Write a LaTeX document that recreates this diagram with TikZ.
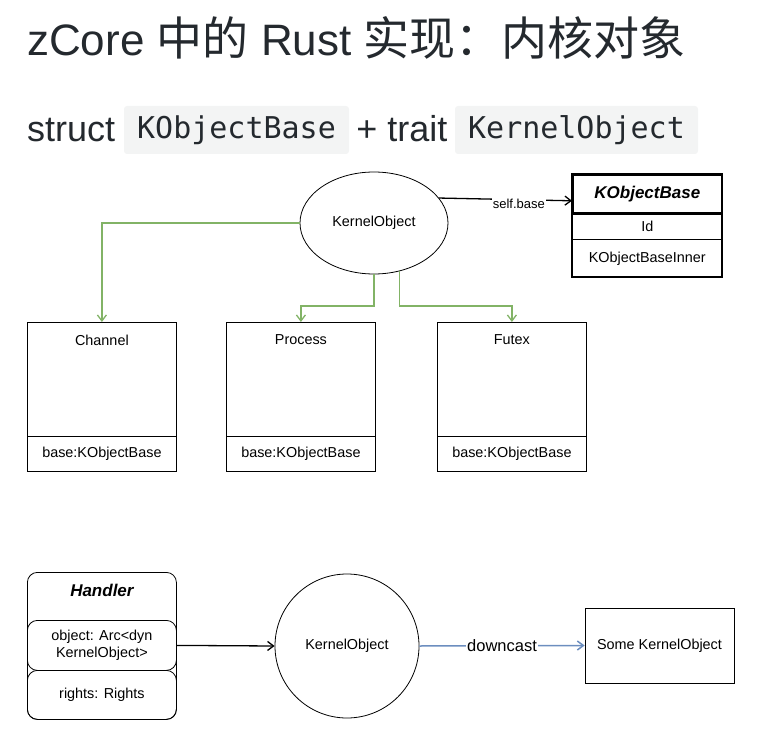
\documentclass[tikz,border=0pt]{standalone}
\usepackage{fontspec}
\setmainfont{Liberation Sans}
\setmonofont{DejaVu Sans Mono}
\newfontfamily\cjk{Noto Sans CJK SC}
\usetikzlibrary{positioning,arrows.meta,shapes.geometric}
\definecolor{codebg}{RGB}{243,244,244}
\definecolor{titlegray}{RGB}{36,41,46}
\definecolor{drawgreen}{RGB}{130,179,102}
\definecolor{drawblue}{RGB}{108,142,191}

\begin{document}
\begin{tikzpicture}[x=1pt,y=-1pt,
    lbl/.style={font=\fontsize{14.4}{17}\selectfont},
    hdr/.style={font=\fontsize{17}{20}\selectfont\bfseries\itshape},
    box/.style={draw,line width=0.8pt,minimum width=149pt,minimum height=149pt,anchor=north west},
    field/.style={draw,line width=0.8pt,minimum width=149pt,minimum height=35pt,anchor=south,lbl},
    row/.style={draw,line width=0.8pt,minimum width=149pt,anchor=north,lbl},
    hfield/.style={draw,line width=0.8pt,rounded corners=10pt,minimum width=149pt,anchor=north west,align=center,lbl},
    code/.style={fill=codebg,rounded corners=3pt,minimum height=48pt,font=\ttfamily\fontsize{30}{34}\selectfont,text=titlegray},
    garrow/.style={draw=drawgreen,line width=1.3pt,-{Straight Barb[length=6pt,width=9pt]}},
    barrow/.style={line width=1.3pt,-{Straight Barb[length=6pt,width=9pt]}}]
  \useasboundingbox (0,0) rectangle (781,735);

  % heading
  \node[anchor=base west,inner sep=0pt,text=titlegray,font=\fontsize{44}{50}\selectfont] (title) at (27,56) {zCore {\cjk\fontsize{46}{50}\selectfont 中的} Rust {\cjk\fontsize{46}{50}\selectfont 实现：内核对象}};
  \node[anchor=base west,inner sep=0pt,text=titlegray,font=\fontsize{36}{40}\selectfont] (struct) at (27,142) {struct};
  \node[code,minimum width=225pt] (kbcode) at (236.5,130) {KObjectBase};
  \node[anchor=base,inner sep=0pt,text=titlegray,font=\fontsize{36}{40}\selectfont] (trait) at (402,142) {+ trait};
  \node[code,minimum width=243pt] (kocode) at (576.5,130) {KernelObject};

  % trait and base
  \node[ellipse,draw,line width=0.8pt,minimum width=148pt,minimum height=102pt,lbl] (ko) at (374,223) {KernelObject};
  \node[draw,line width=1.6pt,minimum width=149pt,minimum height=38pt,anchor=north west,hdr] (kbhead) at (572,174) {KObjectBase};
  \node[row,minimum height=25pt] (kbid) at (kbhead.south) {Id};
  \node[row,minimum height=37pt] (kbinner) at (kbid.south) {KObjectBaseInner};
  \draw[line width=1.6pt] (kbhead.north west) rectangle (kbinner.south east);
  \draw[barrow] (ko.21) -- node[fill=white,inner sep=1pt,font=\fontsize{13}{15}\selectfont,pos=0.6,yshift=-4pt] {self.base} ([yshift=-7pt]kbhead.west);

  % implementors
  \foreach \n/\t/\x in {chan/Channel/27,proc/Process/226,futex/Futex/437} {
    \node[box] (\n) at (\x,322) {};
    \node[lbl] at ([yshift=-18pt]\n.north) {\t};
    \node[field] at (\n.south) {base:KObjectBase};
  }
  \coordinate (split) at (0,306);
  \coordinate (fx) at (399.5,0);
  \draw[garrow] (ko.west) -| (chan.north);
  \draw[garrow] (ko.south) -- (ko.south |- split) -| (proc.north);
  \draw[garrow] (ko.298 -| fx) -- (fx |- split) -| (futex.north);

  % handle and downcast
  \node[hfield,minimum height=147pt] (handler) at (27,572) {};
  \node[hdr] at ([yshift=-18pt]handler.north) {Handler};
  \node[hfield,minimum height=50pt] (hobj) at (27,620) {object: Arc<dyn\\KernelObject>};
  \node[hfield,minimum height=49pt] (hrights) at (27,670) {rights: Rights};
  \node[circle,draw,line width=0.8pt,minimum size=144pt,lbl] (ko2) at (347,646) {KernelObject};
  \node[draw,line width=0.8pt,minimum width=149pt,minimum height=75pt,lbl] (some) at (659.5,645.5) {Some KernelObject};
  \draw[barrow] (hobj.east) -- (ko2.west);
  \draw[draw=drawblue,line width=1.5pt,-{Straight Barb[length=6pt,width=9pt]}] (ko2.east) -- node[fill=white,inner sep=1pt,font=\fontsize{16.5}{19}\selectfont] {downcast} (some.west);
\end{tikzpicture}
\end{document}
